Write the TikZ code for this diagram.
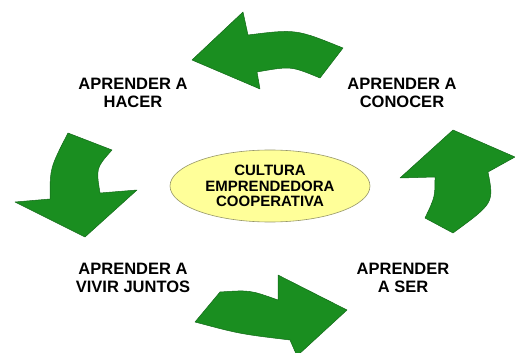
\documentclass[tikz,border=0pt]{standalone}
\usepackage{fontspec}
\setmainfont{Liberation Sans}
\usetikzlibrary{shapes.geometric}

\definecolor{verdeflecha}{RGB}{26,142,32}
\definecolor{bordeflecha}{RGB}{18,105,24}
\definecolor{amarillo}{RGB}{255,255,153}
\definecolor{bordeelipse}{RGB}{150,150,105}

\tikzset{
  flecha/.style={fill=verdeflecha,draw=bordeflecha,line width=0.5pt,line join=round},
  etiqueta/.style={align=center,inner sep=0pt,font=\fontsize{16.5}{18}\selectfont\bfseries},
  centro/.style={ellipse,fill=amarillo,draw=bordeelipse,line width=0.6pt,
    minimum width=200pt,minimum height=72pt,inner sep=0pt,align=center,
    font=\fontsize{15}{15.5}\selectfont\bfseries}
}

\begin{document}
\begin{tikzpicture}[x=1pt,y=-1pt]
\useasboundingbox (0,0) rectangle (515,353);

\begin{scope}
\clip (0,0) rectangle (515,353);

% flecha de arriba
\draw[flecha] (192,60) -- (243,12) -- (248,35) .. controls (296,29) .. (343,48)
  -- (320,78) .. controls (291,66) .. (257,72) -- (260,89) -- cycle;

% flecha de la derecha
\draw[flecha] (453,130) -- (515,157) -- (488,172) .. controls (494,203) .. (453,233)
  -- (425,218) .. controls (435,197) .. (435,177) -- (400,178) -- cycle;

% flecha de abajo
\draw[flecha] (220,292) .. controls (250,290) .. (278,300) -- (278,275) -- (347,310)
  -- (297,356) -- (290,340) .. controls (240,334) .. (195,322) -- cycle;

% flecha de la izquierda
\draw[flecha] (68,133) -- (112,150) .. controls (96,168) .. (100,193) -- (137,190)
  -- (85,237) -- (15,202) -- (50,199) .. controls (50,168) .. cycle;
\end{scope}

\node[centro] (cultura) at (270,186) {CULTURA\\EMPRENDEDORA\\COOPERATIVA};

\node[etiqueta] (hacer) at (133,92.5) {APRENDER A\\HACER};
\node[etiqueta] (conocer) at (402,92.5) {APRENDER A\\CONOCER};
\node[etiqueta] (juntos) at (133,277.5) {APRENDER A\\VIVIR JUNTOS};
\node[etiqueta] (ser) at (403,277.5) {APRENDER\\A SER};

\end{tikzpicture}
\end{document}
